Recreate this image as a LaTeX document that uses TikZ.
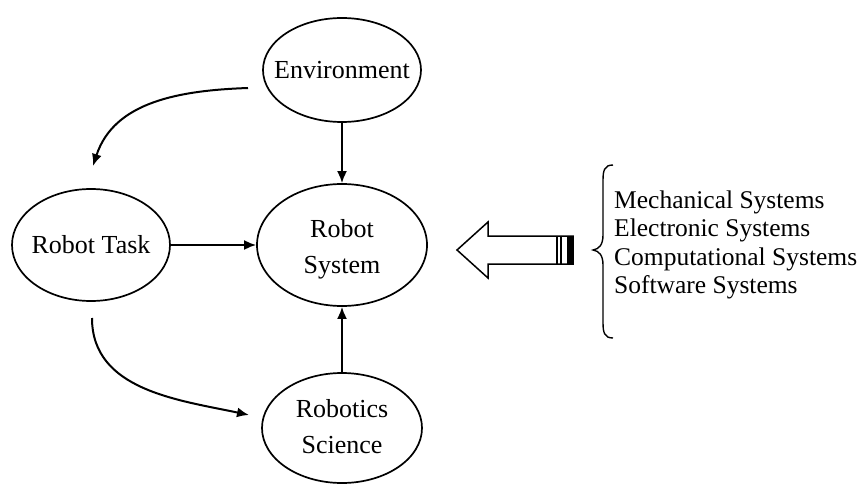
\documentclass[tikz,border=0pt]{standalone}
\usepackage{fontspec}
\setmainfont{Liberation Serif}
\usetikzlibrary{shapes.geometric,arrows.meta}
\begin{document}
\begin{tikzpicture}[x=1pt,y=1pt,
  ell/.style={draw, ellipse, line width=1.7pt, inner sep=0pt},
  lbl/.style={align=center, inner sep=0pt, font=\fontsize{26}{36}\selectfont},
  arr/.style={line width=2pt, -{Latex[length=12pt,width=10pt]}},
  txt/.style={font=\fontsize{25.5}{28.5}\selectfont, align=left, inner sep=0pt}]
\useasboundingbox (0,0) rectangle (859,491);
\node[ell, minimum width=158pt, minimum height=104pt] (env) at (342,421) {};
\node[ell, minimum width=170pt, minimum height=122pt] (rs) at (342,246) {};
\node[ell, minimum width=158pt, minimum height=112pt] (rt) at (91,246) {};
\node[ell, minimum width=160pt, minimum height=110pt] (sci) at (342,63) {};
\node[lbl] (envt) at (env) {Environment};
\node[lbl] (rst) at ([yshift=-4pt]rs.center) {Robot\\System};
\node[lbl] (rtt) at (rt) {Robot Task};
\node[lbl] (scit) at ([yshift=1pt]sci.center) {Robotics\\Science};
\draw[arr] (env) -- (rs);
\draw[arr] (rt) -- (rs);
\draw[arr] (sci) -- (rs);
\coordinate (c1s) at (248,403);
\coordinate (c1e) at (93,325);
\coordinate (c2s) at (92,173);
\coordinate (c2e) at (249,76);
\draw[arr] (c1s) to[out=182,in=72] (c1e);
\draw[arr] (c2s) to[out=-90,in=168] (c2e);
% block arrow
\coordinate (tip) at (457,241);
\draw[line width=1.5pt, line join=miter] (tip) -- (488,269) -- (488,255) -- (573,255) -- (573,227) -- (488,227) -- (488,213) -- cycle;
\draw[line width=1.8pt] (557,255) -- (557,227);
\draw[line width=1.2pt] (561,255) -- (561,227);
\fill (567,227) rectangle (573,255);
% brace
\draw[line width=1.4pt] (613,326) .. controls (604,326) and (603,320) .. (603,310) -- (603,256) .. controls (603,246) and (599,242) .. (593,241) .. controls (599,240) and (603,236) .. (603,226) -- (603,169) .. controls (603,159) and (604,153) .. (613,153);
\node[txt, anchor=west] (list) at (614,246) {Mechanical Systems\\Electronic Systems\\Computational Systems\\Software Systems};
\end{tikzpicture}
\end{document}
